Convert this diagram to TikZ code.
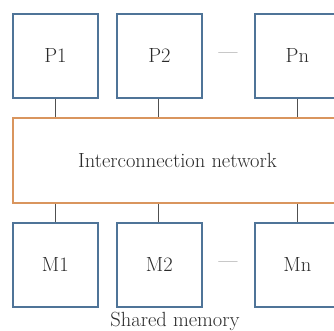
\documentclass[tikz,border=0pt]{standalone}
\usepackage{tikz}
\definecolor{boxblue}{HTML}{4F7498}
\definecolor{netorange}{HTML}{D9955E}
\definecolor{txt}{HTML}{2A2A2A}
\definecolor{wirecol}{HTML}{505050}
\begin{document}
\begin{tikzpicture}[x=1pt,y=-1pt,
  unitbox/.style={draw=boxblue,line width=1.8pt,fill=white,minimum width=85pt,minimum height=84pt,inner sep=0pt,text=txt,font=\fontsize{20.5}{24}\selectfont,anchor=north west},
  netbox/.style={draw=netorange,line width=2pt,fill=white,minimum width=331pt,minimum height=85pt,inner sep=0pt,text=txt,font=\fontsize{20.5}{24}\selectfont,anchor=north west},
  wire/.style={draw=wirecol,line width=1.3pt},
  lbl/.style={text=txt,font=\fontsize{20.5}{24}\selectfont,inner sep=0pt}]
\useasboundingbox (0,0) rectangle (334,331);
\fill[white] (0,0) rectangle (334,331);
\begin{scope}
\clip (0,0) rectangle (334,331);
\node[unitbox] (p1) at (12,13) {P1};
\node[unitbox] (p2) at (116,13) {P2};
\node[unitbox] (pn) at (254,13) {Pn};
\node[lbl,text=wirecol] (pdots) at (228,56) {---};
\node[netbox] (net) at (12,117) {\hspace{-2pt}Interconnection network\hspace{2pt}};
\node[unitbox] (m1) at (12,222) {M1};
\node[unitbox] (m2) at (116,222) {M2};
\node[unitbox] (mn) at (254,222) {Mn};
\node[lbl,text=wirecol] (mdots) at (228,265) {---};
\node[lbl,anchor=base] (shared) at (175,326) {Shared memory};
\draw[wire] (p1.south) -- (p1.south |- net.north);
\draw[wire] ([xshift=-1pt]p2.south) -- ([xshift=-1pt]p2.south |- net.north);
\draw[wire] (pn.south) -- (pn.south |- net.north);
\draw[wire] (m1.north) -- (m1.north |- net.south);
\draw[wire] ([xshift=-1pt]m2.north) -- ([xshift=-1pt]m2.north |- net.south);
\draw[wire] (mn.north) -- (mn.north |- net.south);
\end{scope}
\end{tikzpicture}
\end{document}
